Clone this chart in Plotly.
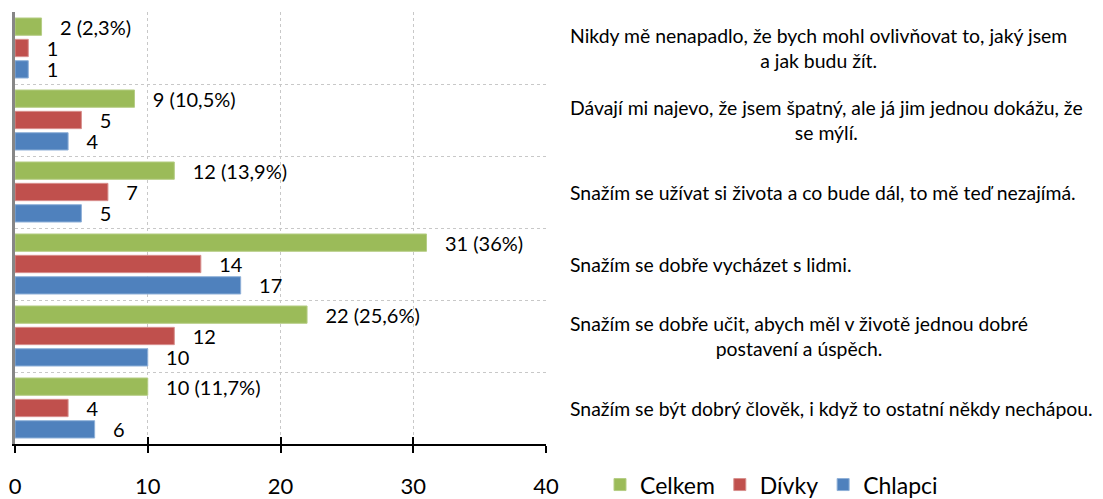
import plotly.graph_objects as go

categories = [
    "Nikdy mě nenapadlo, že bych mohl ovlivňovat to, jaký jsem<br>a jak budu žít.",
    "Dávají mi najevo, že jsem špatný, ale já jim jednou dokážu, že<br>se mýlí.",
    "Snažím se užívat si života a co bude dál, to mě teď nezajímá.",
    "Snažím se dobře vycházet s lidmi.",
    "Snažím se dobře učit, abych měl v životě jednou dobré<br>postavení a úspěch.",
    "Snažím se být dobrý člověk, i když to ostatní někdy nechápou.",
]
cat_ids = ["c1", "c2", "c3", "c4", "c5", "c6"]
celkem = [2, 9, 12, 31, 22, 10]
celkem_pct = ["2,3%", "10,5%", "13,9%", "36%", "25,6%", "11,7%"]
divky = [1, 5, 7, 14, 12, 4]
chlapci = [1, 4, 5, 17, 10, 6]
x_ticks = [0, 10, 20, 30, 40]

FONT = "Lato"
PAD = "\u00a0\u00a0\u00a0"

fig = go.Figure()
series = [
    ("Celkem", celkem, "#9BBB59", "#B5CD85", [f"{v} ({p})" for v, p in zip(celkem, celkem_pct)]),
    ("Dívky", divky, "#C0504D", "#D8908E", [str(v) for v in divky]),
    ("Chlapci", chlapci, "#4F81BD", "#8FB0D8", [str(v) for v in chlapci]),
]
for name, vals, col, lcol, txt in series:
    fig.add_trace(go.Bar(
        name=name, y=cat_ids, x=vals, orientation="h",
        marker=dict(color=col, line=dict(color=lcol, width=1)),
        text=[PAD + t for t in txt], textposition="outside", constraintext="none",
        textfont=dict(family=FONT, size=20, color="black"),
        cliponaxis=False, hoverinfo="skip",
    ))

for cid, label in zip(cat_ids, categories):
    fig.add_annotation(
        x=1.0414, xref="paper", y=cid, yref="y", text=label,
        showarrow=False, xanchor="left", align="center",
        font=dict(family=FONT, size=19.4, color="black"),
    )

fig.update_layout(
    width=1103, height=499,
    margin=dict(l=15, r=557, t=12, b=55, autoexpand=False),
    plot_bgcolor="white", paper_bgcolor="white",
    barmode="group", bargap=0.11, bargroupgap=0.19,
    showlegend=True,
    legend=dict(orientation="h", x=1.1017, xanchor="left", y=-0.094, yanchor="middle",
                font=dict(family=FONT, size=23, color="black"),
                traceorder="normal", itemclick=False),
    xaxis=dict(range=[0, 40], tickvals=x_ticks, showgrid=True, gridcolor="#C8C8C8",
               griddash="dot", gridwidth=1, zeroline=False, automargin=False,
               showline=True, linecolor="black", linewidth=2,
               ticks="outside", ticklen=7, tickwidth=2, tickcolor="black",
               ticklabelstandoff=15,
               tickfont=dict(family=FONT, size=22, color="black")),
    xaxis2=dict(range=[0, 40], matches="x", overlaying="x", anchor="y", side="bottom",
                tickvals=x_ticks, showgrid=False, zeroline=False, showticklabels=False,
                automargin=False,
                ticks="inside", ticklen=7, tickwidth=2, tickcolor="black", showline=False),
    yaxis=dict(categoryorder="array", categoryarray=cat_ids, autorange="reversed",
               showticklabels=False, tickson="boundaries", ticks="", automargin=False,
               showgrid=True, gridcolor="#C8C8C8", griddash="dot", gridwidth=1,
               showline=True, linecolor="#868686", linewidth=3, zeroline=False),
)
fig.add_trace(go.Scatter(x=[0], y=[cat_ids[0]], xaxis="x2", mode="markers",
                         marker=dict(opacity=0), showlegend=False, hoverinfo="skip"))

fig.write_html("out.html", config={"displayModeBar": False},
               post_script="document.body.style.margin='0';document.body.style.padding='0';")
